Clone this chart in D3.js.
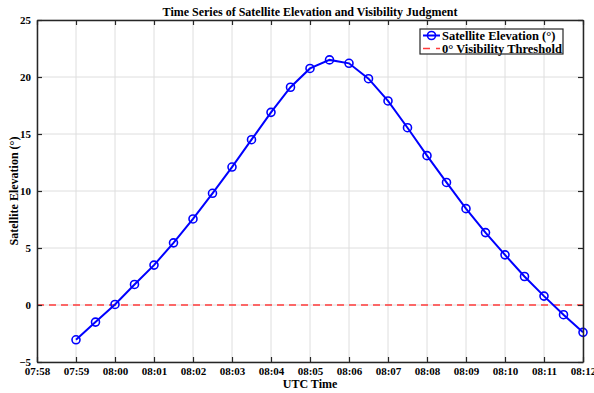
<!doctype html>
<html lang="en">
<head>
<meta charset="utf-8">
<title>Satellite Elevation</title>
<script src="https://cdn.jsdelivr.net/npm/d3@7"></script>
<style>
  body { margin: 0; background: #fff; }
  text { font-family: "Liberation Serif", "Times New Roman", serif; font-weight: bold; fill: #000; }
</style>
</head>
<body>
<script>
// sample times (UTC, every 30 s) and elevation in degrees
var times = ["07:59:00","07:59:30","08:00:00","08:00:30","08:01:00","08:01:30","08:02:00","08:02:30",
             "08:03:00","08:03:30","08:04:00","08:04:30","08:05:00","08:05:30","08:06:00","08:06:30",
             "08:07:00","08:07:30","08:08:00","08:08:30","08:09:00","08:09:30","08:10:00","08:10:30",
             "08:11:00","08:11:30","08:12:00"];
var elevation = [-3.05, -1.5, 0.05, 1.8, 3.5, 5.45, 7.55, 9.8,
                 12.1, 14.5, 16.9, 19.1, 20.75, 21.5, 21.2, 19.85,
                 17.9, 15.55, 13.1, 10.75, 8.45, 6.35, 4.4, 2.5,
                 0.78, -0.85, -2.4];
var xDomain = ["07:58:00", "08:12:00"];
var yDomain = [-5, 25];
var yTicks = [-5, 0, 5, 10, 15, 20, 25];
var threshold = 0;

var W = 594, H = 393;
var margin = {top: 20, right: 11, bottom: 31, left: 37};
var w = W - margin.left - margin.right;
var h = H - margin.top - margin.bottom;

var parse = d3.timeParse("%H:%M:%S");
var data = times.map(function(t, i) { return {t: parse(t), v: elevation[i]}; });

var x = d3.scaleTime().domain(xDomain.map(parse)).range([0, w]);
var y = d3.scaleLinear().domain(yDomain).range([h, 0]);
var xTicks = d3.timeMinute.range(parse(xDomain[0]), d3.timeSecond.offset(parse(xDomain[1]), 1));

var svg = d3.select("body").append("svg")
    .attr("width", W).attr("height", H);

var g = svg.append("g")
    .attr("transform", "translate(" + margin.left + "," + margin.top + ")");

// grid
g.append("g").selectAll("line").data(xTicks).enter().append("line")
    .attr("x1", d => x(d)).attr("x2", d => x(d))
    .attr("y1", 0).attr("y2", h)
    .attr("stroke", "#dedede").attr("stroke-width", 1);
g.append("g").selectAll("line").data(yTicks).enter().append("line")
    .attr("x1", 0).attr("x2", w)
    .attr("y1", d => y(d)).attr("y2", d => y(d))
    .attr("stroke", "#dedede").attr("stroke-width", 1);

// threshold
g.append("line")
    .attr("x1", 0).attr("x2", w)
    .attr("y1", y(threshold)).attr("y2", y(threshold))
    .attr("stroke", "#ff3b3b").attr("stroke-width", 1.6)
    .attr("stroke-dasharray", "7,5");

// series
var line = d3.line().x(d => x(d.t)).y(d => y(d.v));
g.append("path").datum(data)
    .attr("d", line)
    .attr("fill", "none").attr("stroke", "#0000ff").attr("stroke-width", 2);
g.append("g").selectAll("circle").data(data).enter().append("circle")
    .attr("cx", d => x(d.t)).attr("cy", d => y(d.v)).attr("r", 4)
    .attr("fill", "none").attr("stroke", "#0000ff").attr("stroke-width", 1.6);

// axes (ticks point inward, box style)
var fmt = d3.timeFormat("%H:%M");
var xAxis = g.append("g").attr("transform", "translate(0," + h + ")")
    .call(d3.axisBottom(x).tickValues(xTicks).tickFormat(fmt).tickSizeInner(-5).tickSizeOuter(0).tickPadding(5));
var xTop = g.append("g")
    .call(d3.axisTop(x).tickValues(xTicks).tickFormat("").tickSizeInner(-5).tickSizeOuter(0));
var yAxis = g.append("g")
    .call(d3.axisLeft(y).tickValues(yTicks).tickSizeInner(-5).tickSizeOuter(0).tickPadding(6));
var yRight = g.append("g").attr("transform", "translate(" + w + ",0)")
    .call(d3.axisRight(y).tickValues(yTicks).tickFormat("").tickSizeInner(-5).tickSizeOuter(0));

[xAxis, xTop, yAxis, yRight].forEach(function(a) {
    a.select(".domain").attr("stroke", "#262626").attr("stroke-width", 1.5);
    a.selectAll(".tick line").attr("stroke", "#262626").attr("stroke-width", 1.2);
    a.selectAll("text").style("font-family", "Liberation Serif, serif")
        .style("font-weight", "bold").style("font-size", "11px").attr("fill", "#262626");
});

// titles
svg.append("text")
    .attr("x", margin.left + w / 2).attr("y", 16)
    .attr("text-anchor", "middle").style("font-size", "12px")
    .text("Time Series of Satellite Elevation and Visibility Judgment");
svg.append("text")
    .attr("x", margin.left + w / 2).attr("y", 388)
    .attr("text-anchor", "middle").style("font-size", "12px")
    .text("UTC Time");
svg.append("text")
    .attr("transform", "translate(18," + (margin.top + h / 2) + ") rotate(-90)")
    .attr("text-anchor", "middle").style("font-size", "12px")
    .text("Satellite Elevation (°)");

// legend
var lg = svg.append("g").attr("transform", "translate(420,29)");
lg.append("rect").attr("width", 143).attr("height", 25)
    .attr("fill", "#fff").attr("stroke", "#262626").attr("stroke-width", 1.2);
lg.append("line").attr("x1", 3).attr("x2", 20).attr("y1", 6.5).attr("y2", 6.5)
    .attr("stroke", "#0000ff").attr("stroke-width", 2);
lg.append("circle").attr("cx", 11.5).attr("cy", 6.5).attr("r", 4)
    .attr("fill", "none").attr("stroke", "#0000ff").attr("stroke-width", 1.6);
lg.append("line").attr("x1", 3).attr("x2", 20).attr("y1", 19.5).attr("y2", 19.5)
    .attr("stroke", "#ff3b3b").attr("stroke-width", 1.6).attr("stroke-dasharray", "7,6");
lg.append("text").attr("x", 22).attr("y", 10.5).style("font-size", "12.5px")
    .text("Satellite Elevation (°)");
lg.append("text").attr("x", 22).attr("y", 23.5).style("font-size", "12.5px")
    .text("0° Visibility Threshold");
</script>
</body>
</html>
